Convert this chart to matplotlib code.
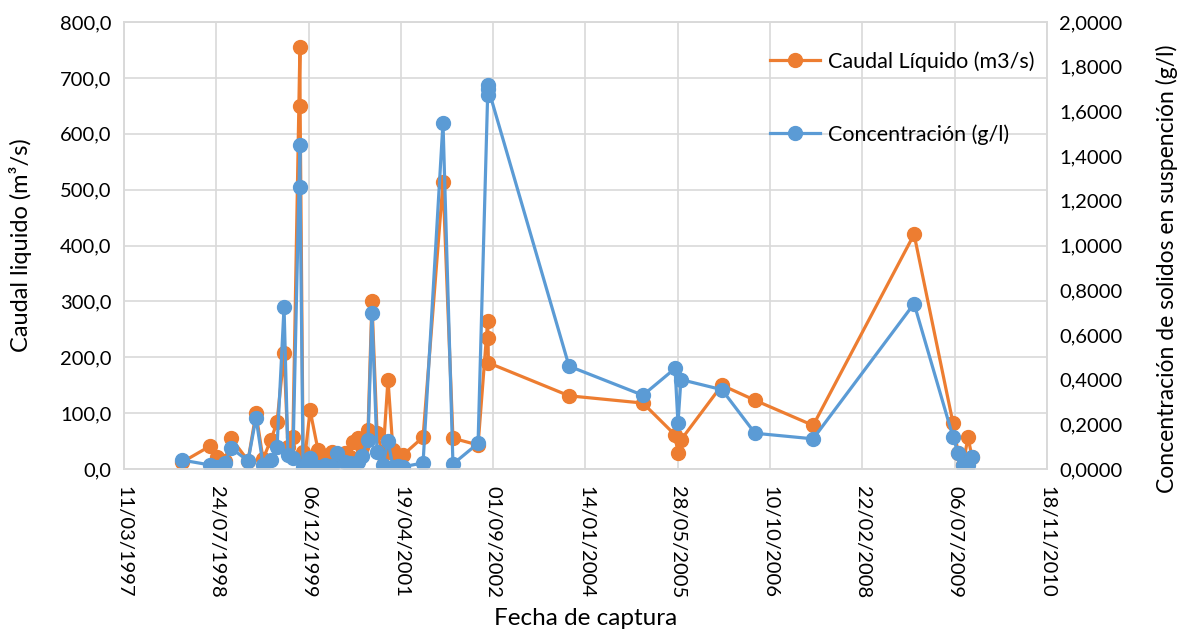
import matplotlib
matplotlib.use("Agg")
import matplotlib.pyplot as plt
import matplotlib.dates as mdates
from matplotlib.ticker import FuncFormatter
import datetime as dt

# fecha de captura, caudal liquido (m3/s), concentracion (g/l)
fechas = [
    "1998-01-19", "1998-06-20", "1998-07-28", "1998-09-09", "1998-10-12",
    "1999-01-12", "1999-02-24", "1999-04-03", "1999-05-16", "1999-06-18",
    "1999-07-26", "1999-08-16", "1999-09-12", "1999-10-20", "1999-10-21",
    "1999-11-06", "1999-11-16", "1999-12-14", "2000-01-26", "2000-03-04",
    "2000-04-11", "2000-05-08", "2000-06-20", "2000-07-17", "2000-08-02",
    "2000-08-30", "2000-09-20", "2000-10-23", "2000-11-13", "2000-12-11",
    "2001-01-12", "2001-02-08", "2001-03-07", "2001-04-03", "2001-04-30",
    "2001-08-17", "2001-12-03", "2002-01-26", "2002-06-11", "2002-08-02",
    "2002-08-04", "2002-08-06", "2003-10-17", "2004-11-20", "2005-05-13",
    "2005-05-29", "2005-06-14", "2006-01-22", "2006-07-20", "2007-05-31",
    "2008-11-28", "2009-06-27", "2009-07-24", "2009-08-20", "2009-09-16",
    "2009-10-08",
]
caudal = [
    12, 41, 21, 15, 55,
    15, 100, 18, 52, 84,
    207, 40, 57, 755, 650,
    30, 22, 105, 34, 20,
    30, 25, 28, 22, 48,
    55, 40, 70, 300, 64,
    25, 160, 34, 20, 25,
    57, 513, 55, 43, 265,
    235, 190, 131, 118, 61,
    28, 52, 150, 123, 78,
    420, 82, 29, 7, 57,
    21,
]
concentracion = [
    0.040, 0.018, 0.010, 0.027, 0.094,
    0.036, 0.230, 0.018, 0.040, 0.098,
    0.725, 0.063, 0.050, 1.450, 1.260,
    0.010, 0.020, 0.050, 0.010, 0.020,
    0.015, 0.070, 0.030, 0.025, 0.020,
    0.030, 0.060, 0.130, 0.700, 0.075,
    0.020, 0.125, 0.010, 0.015, 0.010,
    0.027, 1.550, 0.022, 0.115, 1.675,
    1.720, 1.700, 0.460, 0.330, 0.450,
    0.205, 0.400, 0.355, 0.160, 0.135,
    0.740, 0.143, 0.072, 0.018, 0.020,
    0.055,
]

fechas_dt = [dt.datetime.strptime(f, "%Y-%m-%d") for f in fechas]

naranja = "#ED7D31"
azul = "#5B9BD5"
gris = "#D9D9D9"

plt.rcParams["font.family"] = ["Lato", "DejaVu Sans"]

fig = plt.figure(figsize=(11.84, 6.30), dpi=100)
ax = fig.add_axes([124 / 1184, 1 - 469 / 630, 923 / 1184, 447 / 630])
ax2 = ax.twinx()

ax.plot(fechas_dt, caudal, color=naranja, lw=2.3, marker="o", ms=10,
        label="Caudal Líquido (m3/s)")
ax2.plot(fechas_dt, concentracion, color=azul, lw=2.3, marker="o", ms=10,
         label="Concentración (g/l)")

# eje x: fechas cada 500 dias
inicio = dt.datetime(1997, 3, 11)
ticks = [inicio + dt.timedelta(days=500 * k) for k in range(11)]
ax.set_xlim(ticks[0], ticks[-1])
ax.set_xticks(ticks)
ax.xaxis.set_major_formatter(mdates.DateFormatter("%d/%m/%Y"))
for lab in ax.get_xticklabels():
    lab.set_rotation(-90)

ax.set_ylim(0, 800)
ax.set_yticks(range(0, 801, 100))
ax.yaxis.set_major_formatter(FuncFormatter(lambda v, p: f"{v:.1f}".replace(".", ",")))
ax2.set_ylim(0, 2.0)
ax2.set_yticks([i * 0.2 for i in range(11)])
ax2.yaxis.set_major_formatter(FuncFormatter(lambda v, p: f"{v:.4f}".replace(".", ",")))

ax.grid(True, color=gris, lw=1.2)
ax.set_axisbelow(True)
for a in (ax, ax2):
    for s in a.spines.values():
        s.set_color(gris)
        s.set_linewidth(1.2)
ax.tick_params(axis="both", length=0, labelsize=14.5, colors="black")
ax.tick_params(axis="y", pad=9)
ax.tick_params(axis="x", pad=12)
ax2.tick_params(axis="y", length=0, labelsize=14.5, pad=9)

ax.set_xlabel("Fecha de captura", fontsize=17.5)
ax.xaxis.set_label_coords(0.5, -0.312)
ax.set_ylabel("Caudal liquido (m³/s)", fontsize=17)
ax.yaxis.set_label_coords(-0.10, 0.5)
ax2.set_ylabel("Concentración de solidos en suspención (g/l)", fontsize=16.5)
ax2.yaxis.set_label_coords(1.118, 0.447)

h1, l1 = ax.get_legend_handles_labels()
h2, l2 = ax2.get_legend_handles_labels()
ax2.legend(h1 + h2, l1 + l2, loc="upper left", bbox_to_anchor=(0.70, 0.935),
           frameon=False, fontsize=15.5, labelspacing=2.45, handlelength=2.3,
           handletextpad=0.37, borderpad=0, borderaxespad=0)

fig.savefig("out.png", dpi=100)
